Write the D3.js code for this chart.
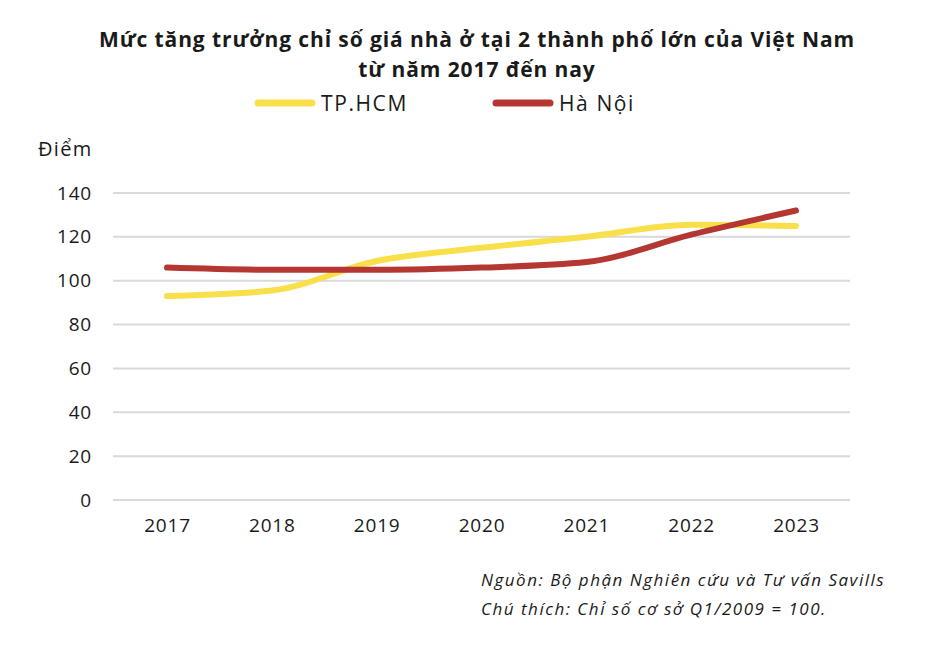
<!DOCTYPE html>
<html>
<head>
<meta charset="utf-8">
<script src="https://cdn.jsdelivr.net/npm/d3@7"></script>
<style>
  body { margin: 0; background: #fff; }
  svg { font-family: "Open Sans", sans-serif; }
</style>
</head>
<body>
<svg width="934" height="650"></svg>
<script>
var years = ["2017", "2018", "2019", "2020", "2021", "2022", "2023"];
var hcm = [93, 95.5, 109, 115, 120, 125.5, 125];
var hanoi = [106, 105, 105, 106, 108.5, 121, 132];
var yTicks = [0, 20, 40, 60, 80, 100, 120, 140];

var svg = d3.select("svg");

var x = d3.scalePoint().domain(years).range([167, 796]);
var y = d3.scaleLinear().domain([0, 140]).range([500, 193]);

// title
svg.append("text")
  .attr("x", 477).attr("y", 47)
  .attr("text-anchor", "middle")
  .style("font-size", "21px").style("font-weight", "bold").style("fill", "#1a1a1a")
  .style("letter-spacing", "0.9px")
  .text("Mức tăng trưởng chỉ số giá nhà ở tại 2 thành phố lớn của Việt Nam");
svg.append("text")
  .attr("x", 477).attr("y", 77)
  .attr("text-anchor", "middle")
  .style("font-size", "21px").style("font-weight", "bold").style("fill", "#1a1a1a")
  .style("letter-spacing", "0.9px")
  .text("từ năm 2017 đến nay");

// legend
var legend = [{name: "TP.HCM", color: "#f9df4a", x: 258}, {name: "Hà Nội", color: "#b53731", x: 496}];
var lg = svg.selectAll("g.legend").data(legend).enter().append("g").attr("class", "legend");
lg.append("line")
  .attr("x1", function(d) { return d.x; }).attr("x2", function(d) { return d.x + 54; })
  .attr("y1", 103).attr("y2", 103)
  .attr("stroke", function(d) { return d.color; })
  .attr("stroke-width", 7).attr("stroke-linecap", "round");
lg.append("text")
  .attr("x", function(d) { return d.x + 63; }).attr("y", 111)
  .style("font-size", "21px").style("fill", "#1a1a1a").style("letter-spacing", "1.6px")
  .text(function(d) { return d.name; });

// y axis label
svg.append("text")
  .attr("x", 38).attr("y", 156)
  .style("font-size", "20px").style("fill", "#1a1a1a").style("letter-spacing", "1.3px")
  .text("Điểm");

// grid
svg.append("g").selectAll("line").data(yTicks).enter().append("line")
  .attr("x1", 113).attr("x2", 850)
  .attr("y1", function(d) { return y(d); }).attr("y2", function(d) { return y(d); })
  .attr("stroke", "#d9d9d9").attr("stroke-width", 2);

// y axis
var yAxis = svg.append("g")
  .attr("transform", "translate(100,0)")
  .call(d3.axisLeft(y).tickValues(yTicks).tickSize(0).tickPadding(8));
yAxis.select(".domain").remove();
yAxis.selectAll("text").style("font-size", "19px").style("fill", "#1a1a1a")
  .style("font-family", "'Open Sans', sans-serif").style("letter-spacing", "0.8px");

// x axis
var xAxis = svg.append("g")
  .attr("transform", "translate(0,514)")
  .call(d3.axisBottom(x).tickSize(0).tickPadding(4));
xAxis.select(".domain").remove();
xAxis.selectAll("text").style("font-size", "19px").style("fill", "#1a1a1a")
  .style("font-family", "'Open Sans', sans-serif").style("letter-spacing", "0.8px");

// lines
var line = d3.line()
  .x(function(d, i) { return x(years[i]); })
  .y(function(d) { return y(d); })
  .curve(d3.curveMonotoneX);

svg.append("path").datum(hcm)
  .attr("d", line).attr("fill", "none")
  .attr("stroke", "#f9df4a").attr("stroke-width", 6).attr("stroke-linecap", "round");
svg.append("path").datum(hanoi)
  .attr("d", line).attr("fill", "none")
  .attr("stroke", "#b53731").attr("stroke-width", 6).attr("stroke-linecap", "round");

// notes
svg.append("text")
  .attr("x", 481).attr("y", 586)
  .style("font-size", "17px").style("font-style", "italic").style("fill", "#1a1a1a")
  .style("letter-spacing", "1.5px")
  .text("Nguồn: Bộ phận Nghiên cứu và Tư vấn Savills");
svg.append("text")
  .attr("x", 481).attr("y", 615)
  .style("font-size", "17px").style("font-style", "italic").style("fill", "#1a1a1a")
  .style("letter-spacing", "1.5px")
  .text("Chú thích: Chỉ số cơ sở Q1/2009 = 100.");
</script>
</body>
</html>
